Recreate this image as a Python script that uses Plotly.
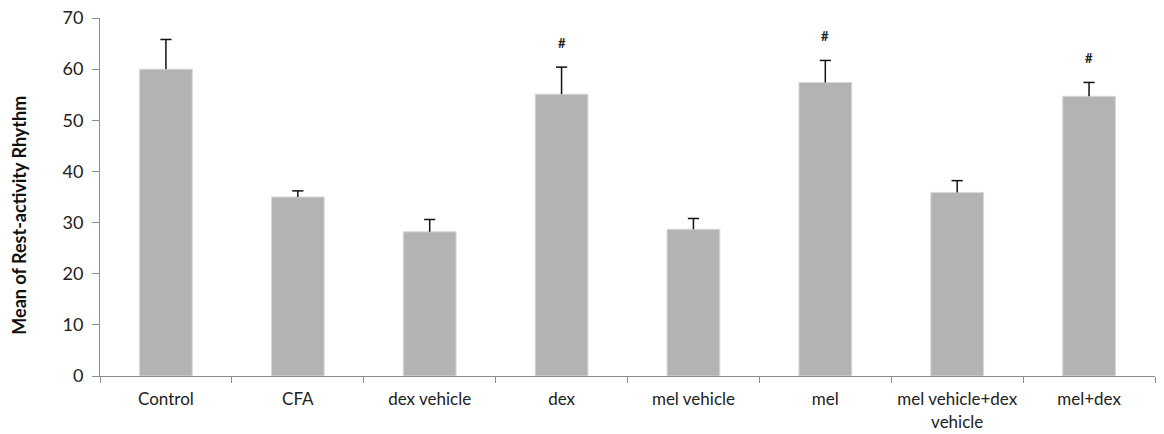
import plotly.graph_objects as go

categories = ["Control", "CFA", "dex vehicle", "dex", "mel vehicle", "mel",
              "mel vehicle+dex<br>vehicle", "mel+dex"]
means = [60.0, 35.0, 28.2, 55.1, 28.7, 57.4, 35.9, 54.7]
sem = [5.8, 1.2, 2.4, 5.3, 2.1, 4.3, 2.3, 2.7]
significant = [False, False, False, True, False, True, False, True]

FONT = "Lato, 'Open Sans', sans-serif"
tops = [m + e for m, e in zip(means, sem)]

fig = go.Figure()
fig.add_trace(go.Bar(
    x=categories, y=means, width=0.4,
    marker=dict(color="#b3b3b3", line=dict(color="#d9d9d9", width=1)),
    hoverinfo="skip",
))

# upper-only error whiskers: stem from the bar top plus a cap
stem_x, stem_y = [], []
for c, m, t in zip(categories, means, tops):
    stem_x += [c, c, None]
    stem_y += [m, t, None]
fig.add_trace(go.Scatter(x=stem_x, y=stem_y, mode="lines",
                         line=dict(color="#111111", width=1.5), hoverinfo="skip"))
fig.add_trace(go.Scatter(x=categories, y=tops, mode="markers",
                         marker=dict(symbol="line-ew", size=8,
                                     line=dict(color="#111111", width=1.5)),
                         hoverinfo="skip"))

for cat, t, sig in zip(categories, tops, significant):
    if sig:
        fig.add_annotation(x=cat, y=t, text="<b>#</b>", showarrow=False,
                           yanchor="bottom", yshift=14,
                           font=dict(family=FONT, size=13, color="#222222"))

fig.add_annotation(text="<b>Mean of Rest-activity Rhythm</b>", textangle=-90,
                   xref="paper", yref="paper", x=-0.077, y=0.45,
                   xanchor="center", yanchor="middle", showarrow=False,
                   font=dict(family=FONT, size=18, color="#111111"))

fig.update_layout(
    width=1164, height=434,
    margin=dict(l=100, r=9, t=18, b=58, autoexpand=False),
    paper_bgcolor="white", plot_bgcolor="white",
    showlegend=False,
    font=dict(family=FONT, size=17, color="#222222"),
)
fig.update_xaxes(
    showline=True, linecolor="#8c8c8c", linewidth=1,
    ticks="outside", tickson="boundaries", ticklen=6, tickcolor="#8c8c8c",
    showgrid=False, tickfont=dict(size=17, color="#222222"),
    tickangle=0, automargin=False, ticklabelstandoff=8,
)
fig.update_yaxes(
    range=[0, 70], dtick=10, showline=True, linecolor="#8c8c8c", linewidth=1,
    ticks="outside", ticklen=7, tickcolor="#8c8c8c", showgrid=False,
    zeroline=False, automargin=False, ticklabelstandoff=5,
    tickfont=dict(size=18, color="#222222"),
)

fig.write_html("out.html")
